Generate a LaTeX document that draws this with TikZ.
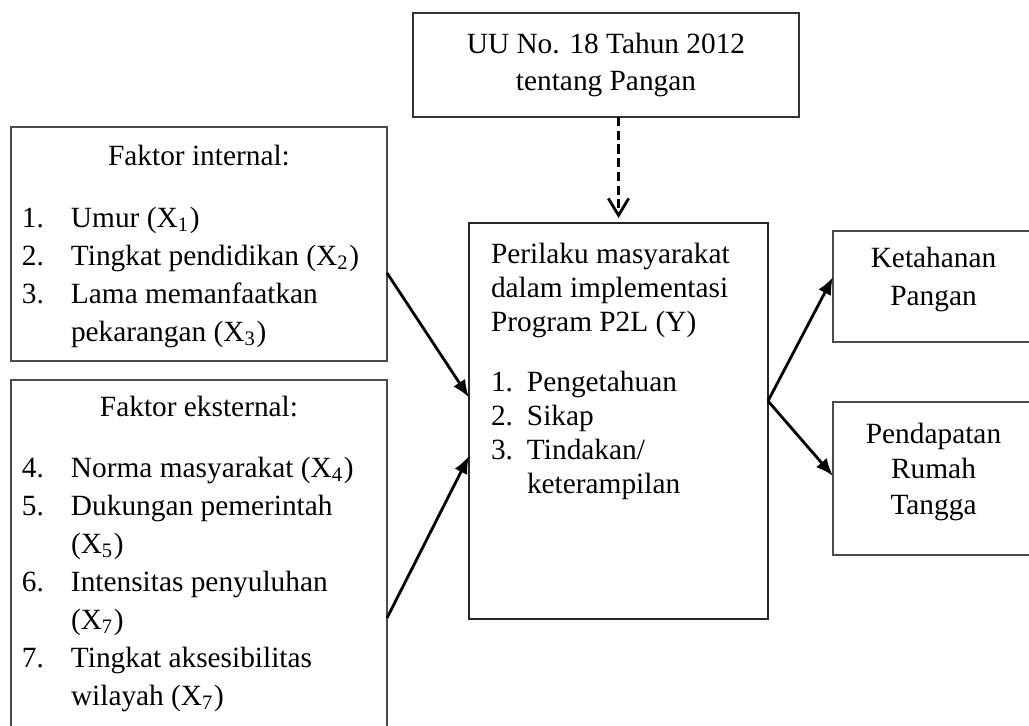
\documentclass[tikz,border=0pt]{standalone}
\usepackage{fontspec}
\setmainfont{Liberation Serif}
\usetikzlibrary{%
  arrows,
  arrows.meta,
  positioning
}
\setlength{\parindent}{0pt}
\newcommand{\boxfont}[1]{\fontsize{8.35}{#1}\selectfont}
\newcommand{\numitem}[3]{\par\hangindent=#1\hangafter=1\noindent\makebox[#1][l]{#2}#3}
\tikzstyle{factorbox} = [draw=black!70, line width=0.45pt, rectangle, inner xsep=0.11cm, inner ysep=0pt, outer sep=0pt]
\tikzstyle{mainbox} = [draw=black!85, line width=0.45pt, rectangle, inner xsep=0.22cm, inner ysep=0pt, outer sep=0pt]
\tikzstyle{titlebox} = [draw=black!80, line width=0.45pt, rectangle, align=center, minimum width=3.86cm, minimum height=1.04cm, inner sep=0pt, outer sep=0pt]
\tikzstyle{outbox} = [draw=black!70, line width=0.45pt, rectangle, inner sep=0pt, outer sep=0pt]
\tikzstyle{link} = [-{Latex[length=5pt,width=4pt]}, line width=0.8pt]
\tikzstyle{dashlink} = [-{Straight Barb[length=4.8pt,width=5.8pt]}, dash pattern=on 2.6pt off 1.3pt, line width=0.8pt]

\begin{document}
\begin{tikzpicture}
        \useasboundingbox (0,0) rectangle (10.29,-7.25);
        \clip (0,0) rectangle (10.29,-7.25);
        \node[mainbox, anchor=north west] (behav) at (4.69,-2.23) {\parbox[c][3.96cm][t]{2.55cm}{\boxfont{9.7pt}\raggedright
          \rule{0pt}{0.40cm}Perilaku masyarakat\newline dalam implementasi\newline Program P2L (Y)\par
          \vspace{0.26cm}%
          \numitem{0.36cm}{1.}{Pengetahuan}
          \numitem{0.36cm}{2.}{Sikap}
          \numitem{0.36cm}{3.}{Tindakan/\newline keterampilan}}};
        \node[titlebox, font=\boxfont{10.6pt}] (uu) at (6.06,-0.65) {UU No. 18 Tahun 2012\\tentang Pangan};
        \node[factorbox, anchor=north west] (intl) at (0.11,-1.27) {\parbox[c][2.34cm][t]{3.54cm}{\boxfont{10.8pt}
          \centering\rule{0pt}{0.38cm}Faktor internal:\par
          \raggedright\vspace{0.25cm}%
          \numitem{0.49cm}{1.}{Umur (X\textsubscript{1})}
          \numitem{0.49cm}{2.}{Tingkat pendidikan (X\textsubscript{2})}
          \numitem{0.49cm}{3.}{Lama memanfaatkan\newline pekarangan (X\textsubscript{3})}}};
        \node[factorbox, below=0.19cm of intl] (extl) {\parbox[c][3.7cm][t]{3.54cm}{\boxfont{10.8pt}
          \centering\rule{0pt}{0.36cm}Faktor eksternal:\par
          \raggedright\vspace{0.24cm}%
          \numitem{0.49cm}{4.}{Norma masyarakat (X\textsubscript{4})}
          \numitem{0.49cm}{5.}{Dukungan pemerintah\newline (X\textsubscript{5})}
          \numitem{0.49cm}{6.}{Intensitas penyuluhan\newline (X\textsubscript{7})}
          \numitem{0.49cm}{7.}{Tingkat aksesibilitas\newline wilayah (X\textsubscript{7})}}};
        \node[outbox, anchor=north west] (food) at (8.33,-2.31) {\parbox[c][1.11cm][t]{2.01cm}{\boxfont{10.6pt}\centering
          \rule{0pt}{0.37cm}Ketahanan\\Pangan}};
        \node[outbox, below=0.6cm of food] (income) {\parbox[c][1.53cm][t]{2.01cm}{\boxfont{10.2pt}\centering
          \rule{0pt}{0.41cm}Pendapatan\\Rumah\\Tangga}};
        \coordinate (split) at ([yshift=0.2cm]behav.east);
        \draw[dashlink] (behav.north |- uu.south) -- ([yshift=0.05cm]behav.north);
        \draw[link] ([yshift=-0.29cm]intl.east) -- ([yshift=0.235cm]behav.west);
        \draw[link] ([yshift=-0.53cm]extl.east) -- ([yshift=-0.35cm]behav.west);
        \draw[link] (split) -- ([yshift=0.095cm]food.west);
        \draw[link] (split) -- ([yshift=0.025cm]income.west);
\end{tikzpicture}
\end{document}
